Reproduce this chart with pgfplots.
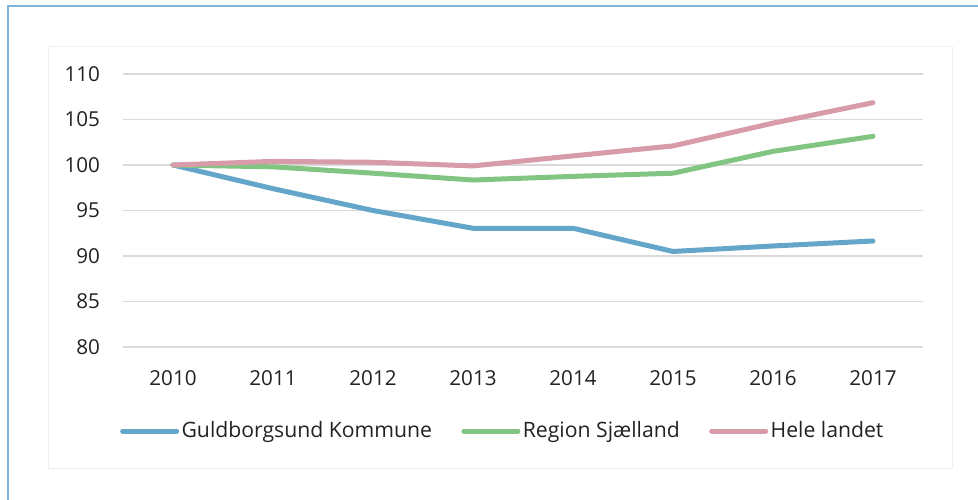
\documentclass[border=0pt]{standalone}
\usepackage{fontspec}
\setmainfont{Open Sans}
\usepackage{pgfplots}
\pgfplotsset{compat=1.18}
\definecolor{cblue}{HTML}{64A6C9}
\definecolor{cgreen}{HTML}{82C482}
\definecolor{cpink}{HTML}{D89BA9}
\definecolor{framecol}{HTML}{7FB4D8}
\definecolor{txt}{HTML}{222222}
\definecolor{gridc}{HTML}{D9D9D9}
\begin{document}
\begin{tikzpicture}[x=1pt,y=1pt]
\path[use as bounding box] (0,0) rectangle (489,249.5);
\clip (0,0) rectangle (489,249.5);
\fill[white] (0,0) rectangle (489,249.5);
\draw[framecol, line width=1pt] (4,-10) -- (4,246.5) -- (500,246.5);
\draw[black!6, line width=0.5pt] (24,15.5) rectangle (476,226);
\begin{axis}[
  at={(61.5pt,76pt)}, anchor=south west,
  scale only axis, width=400pt, height=136.5pt,
  xmin=-0.5, xmax=7.5, ymin=80, ymax=110,
  xtick={0,...,7}, xticklabels={2010,2011,2012,2013,2014,2015,2016,2017},
  ytick={80,85,...,110},
  ymajorgrids, grid style={gridc, line width=0.75pt},
  axis line style={draw=none}, major tick length=0pt,
  /pgf/number format/assume math mode=true,
  tick label style={font=\fontsize{10.3}{12}\selectfont, text=txt},
  yticklabel style={xshift=-8pt},
  xticklabel style={yshift=-8pt},
  clip=false,
  legend columns=3,
  legend style={draw=none, fill=none, at={(0.475,-0.3077)}, anchor=center,
    font=\fontsize{10.6}{12.5}\selectfont, text=txt,
    /tikz/every even column/.append style={column sep=13.5pt},
    nodes={inner sep=1.2pt}},
  legend image code/.code={\draw[#1, line cap=round] (0pt,0pt) -- (27pt,0pt);},
  every axis plot/.append style={line width=2.5pt, line join=round, line cap=round},
]
\addplot[cblue] coordinates {(0,100) (1,97.4) (2,95.0) (3,93.05) (4,93.05) (5,90.5) (6,91.1) (7,91.65)};
\addlegendentry{Guldborgsund Kommune}
\addplot[cgreen] coordinates {(0,100) (1,99.8) (2,99.1) (3,98.35) (4,98.75) (5,99.1) (6,101.5) (7,103.15)};
\addlegendentry{Region Sjælland}
\addplot[cpink] coordinates {(0,100) (1,100.4) (2,100.3) (3,99.9) (4,101.0) (5,102.1) (6,104.6) (7,106.85)};
\addlegendentry{Hele landet}
\end{axis}
\end{tikzpicture}
\end{document}
